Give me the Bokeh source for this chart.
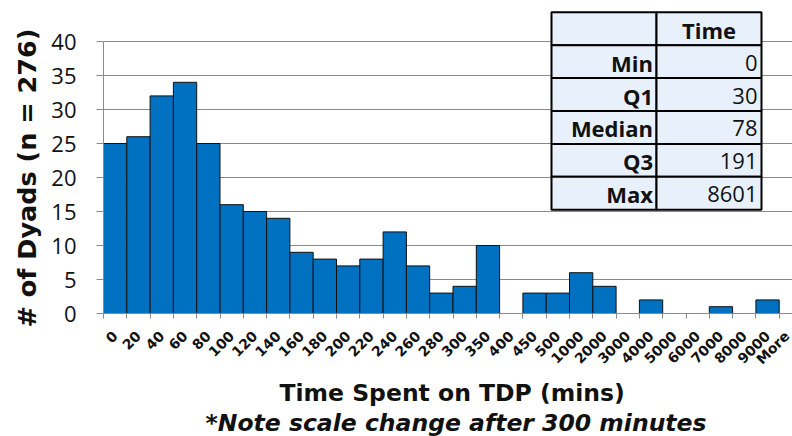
import math
from bokeh.plotting import figure
from bokeh.models import Range1d, FixedTicker, ColumnDataSource, Title
from bokeh.core.properties import value
from bokeh.embed import file_html
from bokeh.resources import INLINE

# ---------------- data ----------------
bins = ["0", "20", "40", "60", "80", "100", "120", "140", "160", "180", "200",
        "220", "240", "260", "280", "300", "350", "400", "450", "500", "1000",
        "2000", "3000", "4000", "5000", "6000", "7000", "8000", "9000", "More"]
counts = [25, 26, 32, 34, 25, 16, 15, 14, 9, 8, 7, 8, 12, 7, 3, 4, 10, 0, 3, 3,
          6, 4, 0, 2, 0, 0, 1, 0, 2, 0]
y_ticks = [0, 5, 10, 15, 20, 25, 30, 35, 40]
stat_names = ["Min", "Q1", "Median", "Q3", "Max"]
stat_values = [0, 30, 78, 191, 8601]
table_header = "Time"
x_title = "Time Spent on TDP (mins)"
x_note = "*Note scale change after 300 minutes"
y_title = "# of Dyads (n = 276)"

# ---------------- layout ----------------
W, H = 792, 436
FRAME_L, FRAME_R, FRAME_T, FRAME_B = 103, 792, 10, 313
CAT_PX = 23.3
Y_PX = 6.8
X0 = -0.5
x_end = X0 + (FRAME_R - FRAME_L) / CAT_PX
y_end = (FRAME_B - FRAME_T) / Y_PX
GRAY = "#8a8a8a"
BLUE = "#0070C0"
INK = "#111111"


def fx(px):  # canvas pixel -> data x
    return X0 + (px - FRAME_L) / CAT_PX


def fy(py):  # canvas pixel -> data y
    return (FRAME_B - py) / Y_PX


p = figure(width=W, height=H, x_range=Range1d(X0, x_end), y_range=Range1d(0, y_end),
           output_backend="svg", toolbar_location=None, title=None,
           min_border_left=FRAME_L, min_border_right=W - FRAME_R,
           min_border_top=FRAME_T, min_border_bottom=H - FRAME_B)
p.outline_line_color = None
p.background_fill_color = "white"
p.border_fill_color = "white"

# x axis: labels at category centres, tick marks at category boundaries
xs = list(range(len(bins)))
p.xaxis.ticker = FixedTicker(ticks=xs, minor_ticks=[i - 0.5 for i in range(len(bins) + 1)])
p.xaxis.major_label_overrides = {i: b for i, b in zip(xs, bins)}
p.xaxis.major_label_orientation = math.pi / 4
p.xaxis.major_tick_line_color = None
p.xaxis.major_tick_out = 0
p.xaxis.major_tick_in = 0
p.xaxis.major_label_standoff = 15
p.xaxis.major_label_text_font = "DejaVu Sans"
p.xaxis.major_label_text_font_style = "bold"
p.xaxis.major_label_text_font_size = "14px"
p.xaxis.major_label_text_color = INK
p.xaxis.minor_tick_line_color = GRAY
p.xaxis.minor_tick_out = 5
p.xaxis.minor_tick_in = 0
p.xaxis.axis_line_color = GRAY
p.xgrid.grid_line_color = None

# y axis
p.yaxis.ticker = FixedTicker(ticks=y_ticks)
p.yaxis.bounds = (y_ticks[0], y_ticks[-1])
p.yaxis.axis_line_color = GRAY
p.yaxis.major_tick_line_color = GRAY
p.yaxis.major_tick_out = 7
p.yaxis.major_tick_in = 0
p.yaxis.minor_tick_line_color = None
p.yaxis.major_label_standoff = 20
p.yaxis.major_label_text_font = "Open Sans"
p.yaxis.major_label_text_font_size = "22px"
p.yaxis.major_label_text_color = INK
p.ygrid.grid_line_color = GRAY
p.ygrid.grid_line_width = 1

# axis titles
p.add_layout(Title(text=y_title, align="left", offset=-14, standoff=14,
                   text_font="DejaVu Sans", text_font_style="bold",
                   text_font_size="25.5px", text_color=INK), "left")
p.add_layout(Title(text=x_title, align="left", offset=176, standoff=0,
                   text_font="DejaVu Sans", text_font_style="bold",
                   text_font_size="23.5px", text_color=INK), "below")
p.add_layout(Title(text=x_note, align="left", offset=102, standoff=0,
                   text_font="DejaVu Sans", text_font_style="bold italic",
                   text_font_size="23.5px", text_color=INK), "below")

# bars
bar_x = [x for x, c in zip(xs, counts) if c > 0]
bar_top = [c for c in counts if c > 0]
src = ColumnDataSource(dict(x=bar_x, top=bar_top))
p.vbar(x="x", top="top", bottom=0, width=1, source=src,
       fill_color=BLUE, line_color=INK, line_width=1)

# statistics table
T_L, T_M, T_R, T_TOP, ROW_H = 551, 656, 761, 11.7, 32.93
rows = [table_header] + stat_names
lefts, rights, tops, bottoms = [], [], [], []
for r in range(len(rows)):
    top = T_TOP + r * ROW_H
    for (a, b) in ((T_L, T_M), (T_M, T_R)):
        lefts.append(fx(a)); rights.append(fx(b))
        tops.append(fy(top)); bottoms.append(fy(top + ROW_H))
p.quad(left=lefts, right=rights, top=tops, bottom=bottoms,
       fill_color="#E8F1FB", line_color="black", line_width=2)

p.text(x=[fx((T_M + T_R) / 2)], y=[fy(T_TOP + ROW_H / 2 + 1)], text=[table_header],
       text_font=value("Open Sans"), text_font_style="bold", text_font_size="22px",
       text_align="center", text_baseline="middle", text_color=INK)
mid_y = [fy(T_TOP + (i + 1.5) * ROW_H + 1) for i in range(len(stat_names))]
p.text(x=[fx(T_M - 3.5)] * len(stat_names), y=mid_y, text=stat_names,
       text_font=value("Open Sans"), text_font_style="bold", text_font_size="22px",
       text_align="right", text_baseline="middle", text_color=INK)
p.text(x=[fx(T_R - 4)] * len(stat_values), y=mid_y, text=[str(v) for v in stat_values],
       text_font=value("Open Sans"), text_font_style="normal", text_font_size="22px",
       text_align="right", text_baseline="middle", text_color=INK)

open("out.html", "w").write(file_html(p, INLINE))
